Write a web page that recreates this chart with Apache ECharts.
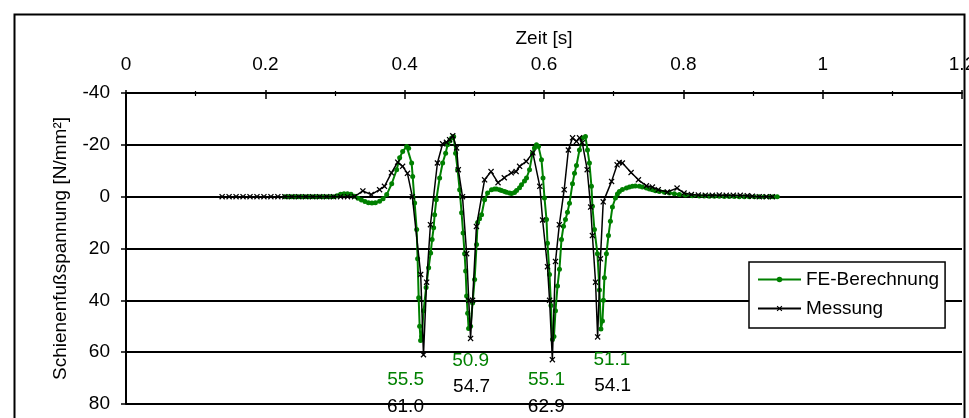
<!DOCTYPE html>
<html>
<head>
<meta charset="utf-8">
<script src="https://cdn.jsdelivr.net/npm/echarts@6/dist/echarts.min.js"></script>
<style>
html,body{margin:0;padding:0;background:#fff;}
#chart{width:969px;height:418px;}
</style>
</head>
<body>
<div id="chart"></div>
<script>
// FE-Berechnung: Zeit [s] / Spannung [N/mm²]
var feTime = [0.228,0.233,0.238,0.243,0.248,0.253,0.258,0.263,0.268,0.273,0.278,0.283,0.288,0.293,0.298,
  0.303,0.308,0.313,0.318,0.323,0.328,0.333,0.338,0.343,0.348,0.353,0.358,0.364,0.369,
  0.3742,0.3814,0.3885,0.3928,0.3971,0.4029,0.4057,0.4100,0.4115,0.4143,0.4172,0.4186,0.4201,0.4215,0.4229,0.4244,
  0.4272,0.4308,0.4344,0.4373,0.4394,0.4416,0.4430,0.4454,0.4502,0.4545,0.4588,0.4616,0.4645,0.4674,0.4703,
  0.4731,0.4760,0.4789,0.4817,0.4839,0.4860,0.4875,0.4889,0.4904,0.4918,0.4946,0.4975,0.5004,0.5032,0.5047,
  0.5075,0.5104,0.5147,0.5190,0.5247,0.5290,0.5319,0.5362,0.5391,0.5434,0.5462,0.5505,0.5534,0.5577,0.5606,
  0.5649,0.5677,0.5720,0.5749,0.5792,0.5835,0.5863,0.5892,0.5921,0.5964,0.5986,0.6007,0.6036,0.6050,0.6079,
  0.6100,0.6122,0.6143,0.6165,0.6194,0.6222,0.6251,0.6280,0.6308,0.6337,0.6366,0.6409,0.6438,0.6466,0.6509,
  0.6552,0.6595,0.6624,0.6652,0.6681,0.6695,0.6724,0.6767,0.6796,0.6817,0.6839,0.6853,0.6867,0.6896,0.6925,
  0.6953,0.6982,0.7025,0.7054,0.7082,0.7125,0.7183,0.7226,0.7269,0.7312,0.7369,0.7412,0.7470,0.7513,0.7556,
  0.7599,0.7656,0.7728,0.7799,0.7871,0.7943,0.8029,0.8129,0.8229,0.8301,0.8373,0.8445,0.8516,0.8588,0.8659,
  0.8731,0.8803,0.8875,0.8946,0.9018,0.9090,0.9161,0.9233,0.9290,0.9348];
var feValue = [0,0,0,0,0,0,0,0,0,0,0,0,0,0,0,
  -0.4,-0.9,-1.1,-1.1,-0.9,-0.2,0.6,1.3,1.9,2.3,2.4,2.3,1.8,0.8,
  -0.8,-5,-10.4,-15,-17.4,-19.4,-18.7,-13,-7.8,2.4,12.7,24,39,50,55.5,54,
  44,35,27.4,21.7,16.5,12,7,1.2,-7.2,-13,-16.8,-20,-21.5,-22.6,-23.2,
  -16.8,-10.4,-2.7,6.2,14,22,28.7,38.3,45,50.9,50,41,32,18.5,10,
  8.5,7,1.2,-1.4,-2.7,-3,-3,-2.7,-2.4,-2,-1.7,-1.4,-1.2,-1.6,-2.4,
  -3.4,-4.6,-6,-7.2,-10.4,-16.8,-18.8,-20,-19.4,-14.2,-7.2,0.5,8.8,18,30,
  42,55.1,54,44,34.5,28,16.5,11.4,8.8,6,2.5,-5,-9,-12,-18,
  -22.6,-23.2,-18,-13,-4,3.7,12.7,22,36,51.1,48,40,31.3,22,15,
  9.5,4,0.5,-1,-2,-2.8,-3.3,-3.7,-4,-4.1,-4,-3.7,-3.3,-3,-2.7,
  -2.3,-2,-1.7,-1.4,-1.1,-0.8,-0.6,-0.4,-0.3,-0.3,-0.2,-0.2,-0.2,-0.1,-0.1,
  -0.1,0,0,0,0,0,0,0,0,0];

// Messung
var mTime = [0.138,0.148,0.158,0.168,0.178,0.188,0.198,0.208,0.218,0.228,0.238,0.248,0.258,0.268,0.278,
  0.288,0.298,0.308,0.318,0.328,
  0.340,0.352,0.364,0.371,0.381,0.390,0.397,0.404,0.411,0.423,0.427,0.4315,0.437,0.447,0.4545,
  0.460,0.4645,0.469,0.4746,0.477,0.483,0.489,0.492,0.4946,0.4975,0.503,0.5147,0.524,0.534,0.543,
  0.553,0.560,0.565,0.5745,0.584,0.594,0.598,0.605,0.608,0.612,0.6165,0.622,0.629,0.635,0.641,
  0.6466,0.651,0.655,0.662,0.667,0.6695,0.674,0.677,0.681,0.685,0.697,0.705,0.708,0.7125,0.725,
  0.7355,0.747,0.7556,0.764,0.777,0.791,0.801,0.8115,0.8215,0.8315,0.8416,0.8516,0.8616,0.8717,0.8817,
  0.8918,0.899,0.909,0.919,0.928];
var mValue = [0,0,0,0,0,0,0,0,0,0,0,0,0,0,0,
  0,0,0,0,0,
  -2.2,-0.8,-2.7,-4,-9.2,-13.3,-11.7,-9,0,30,61.0,33,10.8,-13,-20.4,
  -21,-22,-23.5,-18.8,-10.4,0,22,40,54.7,40,11.5,-6.5,-9.7,-5.4,-7.3,
  -9.2,-9.7,-11.7,-13.6,-16.9,-4,9,27,40,62.9,25,10.8,-2.7,-18,-22.7,
  -21.3,-22.7,-20.8,-10.4,4,15,33,54.1,24,2,-5.9,-12.3,-13.2,-13,-9.3,
  -6.5,-4.2,-3.7,-2.7,-1.8,-3.3,-1.4,-0.8,-0.6,-0.5,-0.5,-0.6,-0.5,-0.5,-0.5,
  -0.4,-0.2,0,0,0];

// placement of the peak value texts, relative to each trough (px)
var feLabelOffset = [[-15,39],[2,32],[-6,40],[11,31]];
var mLabelOffset = [[-18,52],[1,48],[-6,47],[15,49]];

var green = '#008000';
var fontFam = '"Liberation Sans", Arial, sans-serif';
var xMark = 'path://M0,1.5L1.5,0L5,3.5L8.5,0L10,1.5L6.5,5L10,8.5L8.5,10L5,6.5L1.5,10L0,8.5L3.5,5Z';

function buildData(t, v, offsets, color) {
  var out = [], k = 0;
  for (var i = 0; i < t.length; i++) {
    var isTrough = i > 0 && i < t.length - 1 && v[i] > 45 && v[i] >= v[i-1] && v[i] >= v[i+1];
    if (isTrough && k < offsets.length) {
      out.push({
        value: [t[i], v[i]],
        label: {
          show: true, position: 'inside', offset: offsets[k],
          color: color, fontSize: 19, fontFamily: fontFam,
          formatter: function (p) { return p.value[1].toFixed(1); }
        }
      });
      k++;
    } else {
      out.push([t[i], v[i]]);
    }
  }
  return out;
}

var chart = echarts.init(document.getElementById('chart'));
chart.setOption({
  animation: false,
  backgroundColor: '#fff',
  textStyle: { fontFamily: fontFam },
  graphic: [{
    type: 'rect', left: 12, top: 12, z: 100, silent: true,
    shape: { width: 950, height: 440 },
    style: { fill: 'none', stroke: '#000', lineWidth: 2 }
  }],
  grid: { left: 126, right: 7, top: 93, bottom: 14, outerBoundsMode: 'none' },
  legend: {
    data: ['FE-Berechnung', 'Messung'],
    orient: 'vertical',
    left: 749, top: 262,
    padding: [8, 6, 10, 8],
    itemWidth: 43, itemHeight: 7, itemGap: 10,
    borderColor: '#000', borderWidth: 1.5,
    backgroundColor: '#fff',
    textStyle: { fontSize: 19, color: '#000', fontFamily: fontFam }
  },
  xAxis: [{
    type: 'value', position: 'top', min: 0, max: 1.2, interval: 0.2,
    name: 'Zeit [s]', nameLocation: 'middle', nameGap: 45,
    nameTextStyle: { fontSize: 19, color: '#000' },
    axisLine: { onZero: false, lineStyle: { color: '#000', width: 2 } },
    axisTick: { length: 3, lineStyle: { color: '#000', width: 1.5 } },
    minorTick: { show: true, splitNumber: 2, length: 2, lineStyle: { color: '#000', width: 1.2 } },
    axisLabel: { fontSize: 19, color: '#000', margin: 19 },
    splitLine: { show: false }
  }, {
    type: 'value', position: 'top', min: 0, max: 1.2, interval: 0.2,
    axisLine: { show: false, onZero: false },
    axisTick: { inside: true, length: 6, lineStyle: { color: '#000', width: 1.5 } },
    minorTick: { show: true, splitNumber: 2, length: 3, lineStyle: { color: '#000', width: 1.2 } },
    axisLabel: { show: false },
    splitLine: { show: false }
  }],
  yAxis: [{
    type: 'value', inverse: true, min: -40, max: 80, interval: 20,
    name: 'Schienenfußspannung [N/mm²]', nameLocation: 'middle', nameGap: 56,
    nameTextStyle: { fontSize: 19, color: '#000' },
    axisLine: { show: true, onZero: false, lineStyle: { color: '#000', width: 2 } },
    axisTick: { show: true, length: 5, lineStyle: { color: '#000', width: 1.5 } },
    axisLabel: { fontSize: 19, color: '#000', margin: 16 },
    splitLine: { show: true, lineStyle: { color: '#000', width: 2 } }
  }, {
    type: 'value', inverse: true, min: -40, max: 80, interval: 20,
    position: 'left',
    axisLine: { show: false, onZero: false },
    axisTick: { show: true, inside: true, length: 5, lineStyle: { color: '#000', width: 1.5 } },
    axisLabel: { show: false },
    splitLine: { show: false }
  }],
  series: [{
    name: 'FE-Berechnung',
    type: 'line',
    data: buildData(feTime, feValue, feLabelOffset, green),
    symbol: 'circle', symbolSize: 5,
    itemStyle: { color: green },
    lineStyle: { color: green, width: 2 },
    z: 3
  }, {
    name: 'Messung',
    type: 'line',
    data: buildData(mTime, mValue, mLabelOffset, '#000'),
    symbol: xMark, symbolSize: 6,
    itemStyle: { color: '#000' },
    lineStyle: { color: '#000', width: 1.5 },
    z: 4
  }]
});
</script>
</body>
</html>
